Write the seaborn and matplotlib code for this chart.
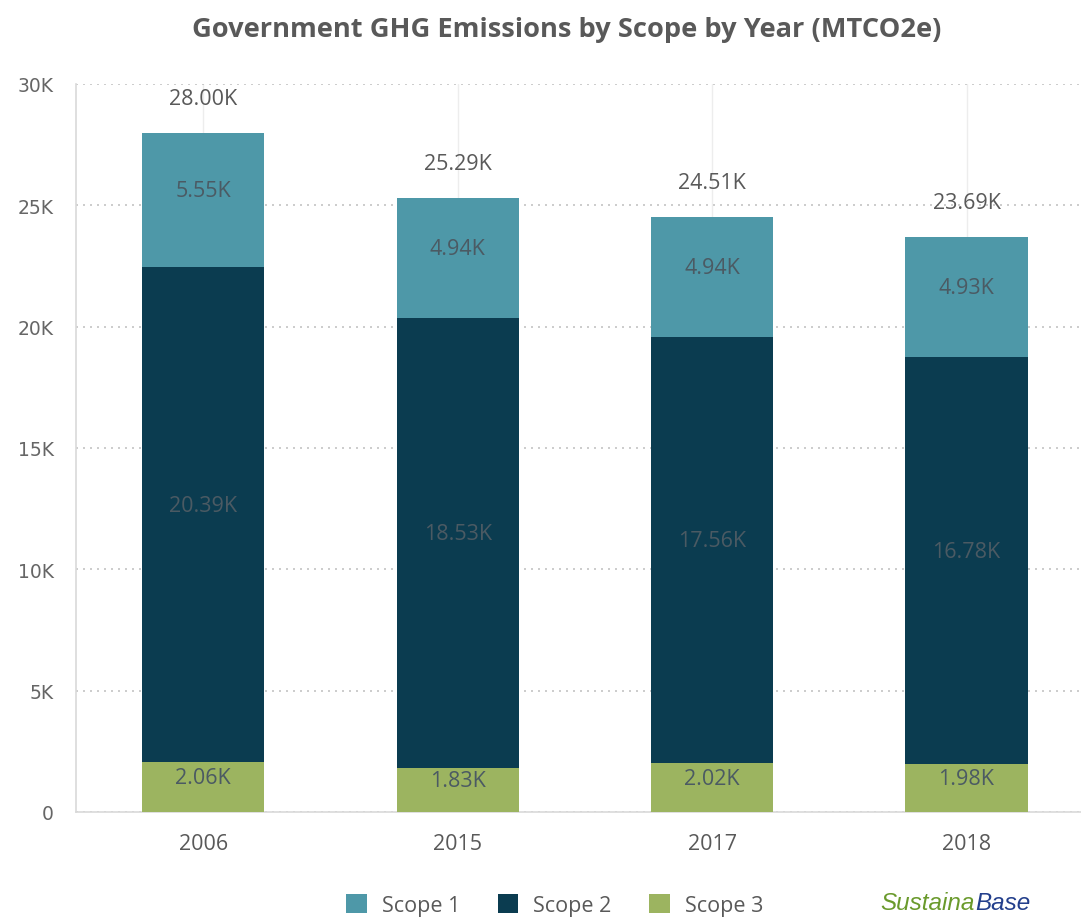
import matplotlib
matplotlib.use("Agg")
import matplotlib.pyplot as plt
from matplotlib.patches import Patch
from matplotlib.ticker import FuncFormatter, MultipleLocator
from matplotlib import font_manager
import seaborn as sns
import pandas as pd

# Emissions in thousands of MTCO2e
years = ["2006", "2015", "2017", "2018"]
scope1 = [5.55, 4.938, 4.937, 4.93]
scope2 = [20.39, 18.527, 17.556, 16.78]
scope3 = [2.06, 1.826, 2.017, 1.98]

colors = {"Scope 1": "#4e98a8", "Scope 2": "#0b3c50", "Scope 3": "#9cb460"}
text_grey = "#595959"
inner_text = "#4b5a63"

sns.set_theme(style="white")
plt.rcParams["font.family"] = ["Open Sans", "DejaVu Sans"]


def pick_font(names):
    for name in names:
        try:
            font_manager.findfont(font_manager.FontProperties(family=name),
                                  fallback_to_default=False)
            return name
        except Exception:
            continue
    return "DejaVu Sans"


logo_font = pick_font(["Liberation Sans Narrow", "Liberation Sans", "DejaVu Sans"])

df = pd.DataFrame({"year": years, "s1": scope1, "s2": scope2, "s3": scope3})
df["top2"] = df["s2"] + df["s3"]
df["total"] = df["s1"] + df["top2"]

fig = plt.figure(figsize=(10.81, 9.2), dpi=100)
ax = fig.add_axes([76 / 1081, 1 - 813 / 920, 1 - 76 / 1081, (813 - 85) / 920])

# Layered bars: full stack first, then the lower segments drawn over it
bar_kw = dict(width=0.48, saturation=1, ax=ax, zorder=3, linewidth=0, edgecolor="none")
sns.barplot(data=df, x="year", y="total", color=colors["Scope 1"], **bar_kw)
sns.barplot(data=df, x="year", y="top2", color=colors["Scope 2"], **bar_kw)
sns.barplot(data=df, x="year", y="s3", color=colors["Scope 3"], **bar_kw)

ax.set_ylim(0, 30)
ax.set_xlim(-0.5, 3.45)
ax.yaxis.set_major_locator(MultipleLocator(5))
ax.yaxis.set_major_formatter(FuncFormatter(lambda v, p: "0" if v == 0 else f"{v:g}K"))
ax.set_xlabel("")
ax.set_ylabel("")

# Grid: dotted horizontal lines, faint vertical lines at each category
ax.grid(axis="y", linestyle=(0, (1.2, 3)), color="#c4c4c4", linewidth=1.2, zorder=0)
for i in range(len(years)):
    ax.axvline(i, color="#ededed", linewidth=1.0, zorder=0)

for side in ["top", "right"]:
    ax.spines[side].set_visible(False)
for side in ["left", "bottom"]:
    ax.spines[side].set_color("#d9d9d9")
    ax.spines[side].set_linewidth(1.2)

ax.tick_params(axis="both", length=0)
ax.tick_params(axis="x", pad=15, labelsize=15.5, labelcolor=text_grey)
ax.tick_params(axis="y", pad=16, labelsize=13.5, labelcolor="#666666")
for lbl in ax.get_yticklabels():
    lbl.set_family(["DejaVu Sans"])

# Segment labels and stack totals
for i, row in df.iterrows():
    segs = [(0, row["s3"], row["s3"]),
            (row["s3"], row["top2"], row["s2"]),
            (row["top2"], row["total"], row["s1"])]
    for lo, hi, val in segs:
        ax.text(i, (lo + hi) / 2 + 0.38, f"{val:.2f}K", ha="center", va="center",
                fontsize=15.5, color=inner_text, zorder=4)
    ax.text(i, row["total"] + 1.42, f"{row['total']:.2f}K", ha="center", va="center",
            fontsize=15.5, color=text_grey, zorder=4)

fig.text(0.524, 1 - 30 / 920, "Government GHG Emissions by Scope by Year (MTCO2e)",
         ha="center", va="center", fontsize=19.6, fontweight="bold", color=text_grey)

handles = [Patch(facecolor=c, edgecolor="none", label=k) for k, c in colors.items()]
fig.legend(handles=handles, loc="center", bbox_to_anchor=(0.513, 1 - 906 / 920),
           ncol=3, frameon=False, fontsize=15.5, labelcolor=text_grey,
           handlelength=0.95, handleheight=0.95, handletextpad=0.7, columnspacing=1.75)

# Brand mark
logo_y = 1 - 904 / 920
split_x = 975 / 1081
fig.text(split_x, logo_y, "Sustaina", ha="right", va="center",
         fontsize=17.5, style="italic", color="#6a9a2c", family=[logo_font])
fig.text(split_x, logo_y, "Base", ha="left", va="center",
         fontsize=17.5, style="italic", color="#233f8c", family=[logo_font])

fig.savefig("out.png", dpi=100, facecolor="white")
